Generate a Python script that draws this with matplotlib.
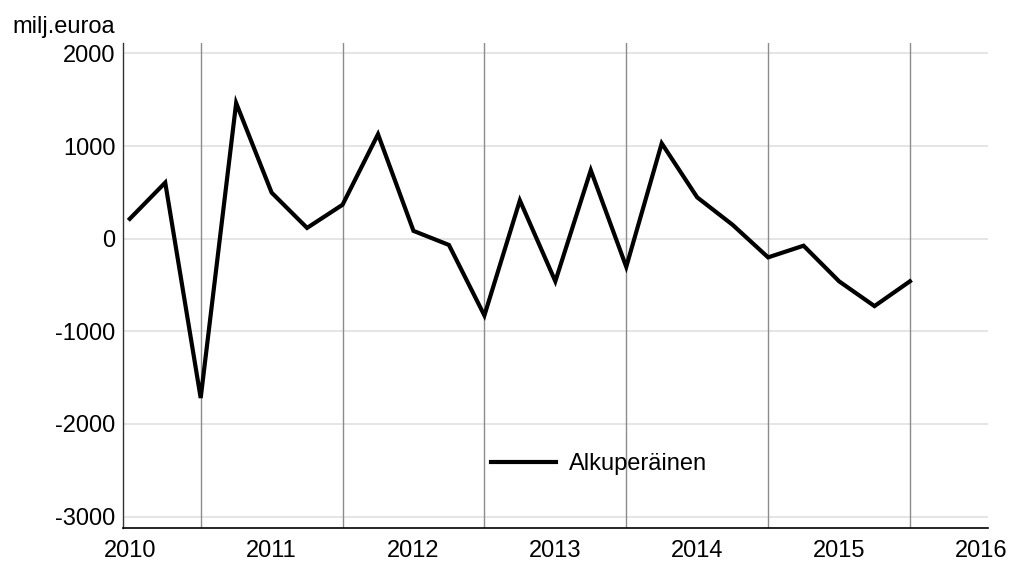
import matplotlib
matplotlib.use("Agg")
import matplotlib.pyplot as plt

plt.rcParams['font.family'] = ['Liberation Sans', 'DejaVu Sans']

# Quarterly values (milj. euroa), starting 2010
values = [214, 605, -1720, 1464, 497, 116, 366, 1127,
          84, -68, -829, 413, -460, 739, -304, 1029,
          446, 149, -202, -76, -460, -728, -460]
year_labels = ['2010', '2011', '2012', '2013', '2014', '2015', '2016']
y_ticks = [-3000, -2000, -1000, 0, 1000, 2000]
series_name = 'Alkuperäinen'
unit_label = 'milj.euroa'

x = list(range(len(values)))
year_pos = [4 * i for i in range(len(year_labels))]
vline_pos = [4 * i + 2 for i in range(6)]

fig = plt.figure(figsize=(10.13, 5.62), dpi=100)
ax = fig.add_axes([0.1211, 0.061, 0.8542, 0.863])

ax.set_xlim(-0.2, 24.2)
ax.set_ylim(-3120, 2115)

for yv in y_ticks:
    ax.axhline(yv, color='#e0e0e0', lw=1.2, zorder=1)
for xv in vline_pos:
    ax.axvline(xv, color='#8c8c8c', lw=1.0, zorder=1)

ax.plot(x, values, color='black', lw=3.0, solid_joinstyle='miter', zorder=3, label=series_name)

ax.set_xticks(year_pos)
ax.set_xticklabels(year_labels)
ax.set_yticks(y_ticks)
ax.set_yticklabels([str(v) for v in y_ticks])
ax.tick_params(axis='both', length=0, labelsize=17, colors='black')
ax.tick_params(axis='y', pad=5)
ax.tick_params(axis='x', pad=8.5)

for s in ['top', 'right']:
    ax.spines[s].set_visible(False)
ax.spines['left'].set_color('#333333')
ax.spines['left'].set_linewidth(1.0)
ax.spines['bottom'].set_color('black')
ax.spines['bottom'].set_linewidth(1.2)

fig.text(115 / 1013, 1 - 33 / 562, unit_label, ha='right', va='baseline', fontsize=17)

leg = ax.legend(loc='center left', bbox_to_anchor=(0.4253, 0.1313), frameon=False,
                fontsize=17, handlelength=2.75, handletextpad=0.55, borderpad=0,
                borderaxespad=0)

fig.savefig('out.png', dpi=100)
